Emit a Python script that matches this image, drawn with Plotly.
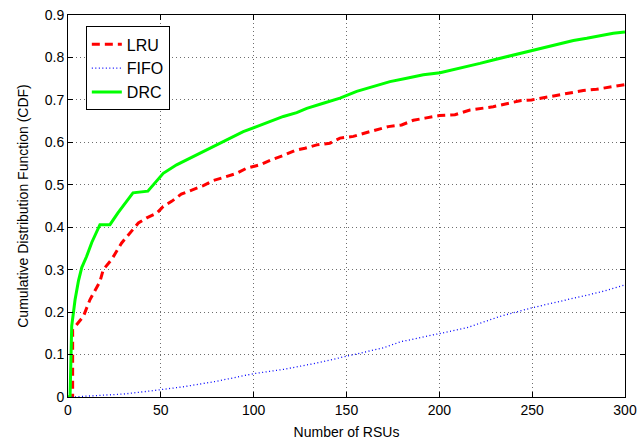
import plotly.graph_objects as go

# ---- data ----
drc_x = [0, 1.1, 2, 3.8, 5.6, 7.4, 10, 12.8, 17.2, 22.6, 26.9, 31.6, 35, 43, 46, 51.3, 58.5,
         65.7, 72.9, 80, 87.3, 94.4, 101.6, 108.8, 116, 123.2, 128.6, 137.5, 146.5, 155.5,
         164.4, 173.4, 182.4, 191.4, 200.4, 207.5, 214.7, 221.9, 229, 236.3, 243.4, 250.6,
         257.8, 265, 272.2, 279.4, 286.5, 293.7, 300]
drc_y = [0, 0, 0.167, 0.229, 0.273, 0.305, 0.331, 0.364, 0.406, 0.406, 0.434, 0.461, 0.481,
         0.485, 0.5, 0.527, 0.547, 0.563, 0.578, 0.594, 0.61, 0.625, 0.637, 0.649, 0.661, 0.67,
         0.68, 0.692, 0.704, 0.72, 0.731, 0.743, 0.751, 0.759, 0.764, 0.771, 0.778, 0.786, 0.794,
         0.802, 0.81, 0.818, 0.825, 0.833, 0.84, 0.845, 0.851, 0.857, 0.86]

lru_x = [0, 2.5, 2.5, 8.3, 11.8, 17.2, 19, 23.5, 28.9, 33.4, 37.9, 42.4, 47.8, 51.3, 55.8, 61,
         66.6, 72.9, 78.3, 84.6, 90.9, 96.2, 103.4, 109.7, 116, 122.3, 127.6, 134, 141, 146.5,
         153.7, 160, 166.3, 172.5, 179.7, 186, 192.3, 200, 208.4, 216.5, 229, 236.3, 243.4,
         249.7, 257, 263.2, 270.4, 277.5, 284.7, 291.9, 300]
lru_y = [0, 0, 0.159, 0.19, 0.229, 0.272, 0.3, 0.324, 0.363, 0.386, 0.41, 0.422, 0.433, 0.449,
         0.461, 0.478, 0.488, 0.498, 0.51, 0.518, 0.527, 0.539, 0.547, 0.559, 0.569, 0.581,
         0.586, 0.594, 0.598, 0.61, 0.614, 0.622, 0.629, 0.637, 0.641, 0.652, 0.657, 0.663,
         0.665, 0.676, 0.684, 0.691, 0.698, 0.7, 0.706, 0.712, 0.717, 0.722, 0.725, 0.73, 0.736]

fifo_x = [0, 3, 10, 20, 30, 44, 62, 80, 89, 100, 116, 134, 150, 170, 179, 200, 214.7, 232.7,
          249.7, 268.6, 286.5, 300]
fifo_y = [0, 0, 0.002, 0.004, 0.007, 0.014, 0.024, 0.037, 0.045, 0.055, 0.065, 0.08, 0.096,
          0.116, 0.13, 0.149, 0.163, 0.19, 0.21, 0.229, 0.247, 0.264]

x_ticks = [0, 50, 100, 150, 200, 250, 300]
y_ticks = [0, 0.1, 0.2, 0.3, 0.4, 0.5, 0.6, 0.7, 0.8, 0.9]
y_labels = ["0", "0.1", "0.2", "0.3", "0.4", "0.5", "0.6", "0.7", "0.8", "0.9"]

fig = go.Figure()
fig.add_trace(go.Scatter(x=lru_x, y=lru_y, mode="lines", name="LRU",
                         line=dict(color="#FF0000", width=3, dash="8px,5px")))
fig.add_trace(go.Scatter(x=fifo_x, y=fifo_y, mode="lines", name="FIFO",
                         line=dict(color="#0000FF", width=1.3, dash="1px,2.5px")))
fig.add_trace(go.Scatter(x=drc_x, y=drc_y, mode="lines", name="DRC",
                         line=dict(color="#00FF00", width=3)))

axis_common = dict(showline=True, linecolor="black", linewidth=1, mirror="allticks",
                   ticks="inside", ticklen=5, tickcolor="black",
                   showgrid=True, gridcolor="#6e6e6e", griddash="1px,3px", gridwidth=1,
                   zeroline=False, automargin=False,
                   tickfont=dict(family="Liberation Sans, Arial", size=14, color="black"))

fig.update_layout(
    width=638, height=443,
    margin=dict(l=68, r=13, t=15, b=45.5),
    paper_bgcolor="white", plot_bgcolor="white",
    font=dict(family="Liberation Sans, Arial", color="black"),
    xaxis=dict(range=[0, 300], tickvals=x_ticks,
               title=dict(text="Number of RSUs", font=dict(size=14), standoff=10),
               **axis_common),
    yaxis=dict(range=[0, 0.9], tickvals=y_ticks, ticktext=y_labels,
               title=dict(text="Cumulative Distribution Function (CDF)", font=dict(size=14), standoff=12),
               **axis_common),
    legend=dict(x=0.032, y=0.97, xanchor="left", yanchor="top",
                bgcolor="white", bordercolor="black", borderwidth=1,
                font=dict(family="Liberation Sans, Arial", size=16, color="black"),
                tracegroupgap=0, itemwidth=30),
    showlegend=True,
)

fig.write_html("out.html")
